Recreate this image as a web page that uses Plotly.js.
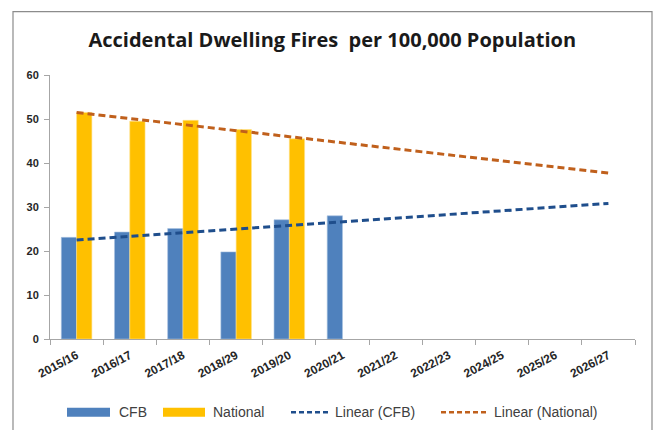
<!DOCTYPE html>
<html>
<head>
<meta charset="utf-8">
<script src="https://cdn.plot.ly/plotly-3.0.1.min.js"></script>
<style>
html,body{margin:0;padding:0;background:#fff;}
#chart{width:658px;height:430px;}
</style>
</head>
<body>
<div id="chart"></div>
<script>
const categories = ["2015/16","2016/17","2017/18","2018/29","2019/20","2020/21","2021/22","2022/23","2024/25","2025/26","2026/27"];
const cfbValues = [23.1, 24.3, 25.1, 19.8, 27.1, 28.0];
const nationalValues = [51.5, 49.5, 49.7, 47.6, 45.5];
// Trendline endpoints (first and last category)
const trendCategories = ["2015/16", "2026/27"];
const cfbTrend = [22.5, 30.8];
const nationalTrend = [51.5, 37.7];
const yTicks = [0, 10, 20, 30, 40, 50, 60];
const seriesNames = ["CFB", "National", "Linear (CFB)", "Linear (National)"];
const seriesColors = ["#4F81BD", "#FFC000", "#1F4E8C", "#C0601C"];

const tickFont = {family: "Liberation Sans, Arial, sans-serif", size: 12, color: "#262626", weight: "bold"};
const yTickFont = {family: "Liberation Sans, Arial, sans-serif", size: 11, color: "#262626", weight: "bold"};

const traces = [
  {type: "bar", name: seriesNames[0], x: categories.slice(0, cfbValues.length), y: cfbValues,
   marker: {color: seriesColors[0], line: {color: "#A9C2E0", width: 0.6}}},
  {type: "bar", name: seriesNames[1], x: categories.slice(0, nationalValues.length), y: nationalValues,
   marker: {color: seriesColors[1], line: {color: "#FFE08A", width: 0.6}}},
  {type: "scatter", mode: "lines", name: seriesNames[2], x: trendCategories, y: cfbTrend,
   line: {color: seriesColors[2], width: 3, dash: "7px,4px"}},
  {type: "scatter", mode: "lines", name: seriesNames[3], x: trendCategories, y: nationalTrend,
   line: {color: seriesColors[3], width: 3, dash: "7px,4px"}}
];

// plot area: x 50..635 px, y 75.3..339.3 px  -> helper to convert pixel to paper coords
const PX = px => (px - 50) / 585;
const PY = py => (339.3 - py) / 264;

const legendY = 412.5;
const legendItems = [
  {kind: "rect", x0: 67, x1: 110, tx: 117},
  {kind: "rect", x0: 163, x1: 205, tx: 211},
  {kind: "dash", x0: 291, x1: 329, tx: 333},
  {kind: "dash", x0: 441, x1: 488, tx: 492}
];

const shapes = [
  {type: "rect", xref: "paper", yref: "paper", x0: PX(13), x1: PX(652), y0: PY(445), y1: PY(12),
   line: {color: "#8C8C8C", width: 1.2}, fillcolor: "rgba(0,0,0,0)", layer: "below"}
];
const annotations = [];
legendItems.forEach((it, i) => {
  if (it.kind === "rect") {
    shapes.push({type: "rect", xref: "paper", yref: "paper", x0: PX(it.x0), x1: PX(it.x1),
      y0: PY(legendY + 4.5), y1: PY(legendY - 4.5), line: {width: 0}, fillcolor: seriesColors[i]});
  } else {
    shapes.push({type: "line", xref: "paper", yref: "paper", x0: PX(it.x0), x1: PX(it.x1),
      y0: PY(legendY), y1: PY(legendY), line: {color: seriesColors[i], width: 2.5, dash: "5px,3px"}});
  }
  annotations.push({xref: "paper", yref: "paper", x: PX(it.tx), y: PY(legendY), xanchor: "left", yanchor: "middle",
    text: seriesNames[i], showarrow: false,
    font: {family: "Liberation Sans, Arial, sans-serif", size: 14, color: "#404040"}});
});

const layout = {
  width: 658, height: 430,
  paper_bgcolor: "#ffffff", plot_bgcolor: "#ffffff",
  margin: {l: 50, r: 23, t: 75, b: 91},
  barmode: "group", bargap: 0.425, bargroupgap: 0,
  title: {text: "Accidental Dwelling Fires  per 100,000 Population",
          font: {family: "Open Sans, sans-serif", size: 20, color: "#1a1a1a", weight: "bold"},
          x: 0.505, xanchor: "center", y: 0.907, yanchor: "middle"},
  xaxis: {type: "category", categoryorder: "array", categoryarray: categories,
          range: [-0.5, categories.length - 0.5],
          tickangle: -28, tickfont: tickFont, ticklabelstandoff: 4,
          showgrid: false, zeroline: false,
          showline: true, linecolor: "#A6A6A6", linewidth: 1,
          ticks: "outside", ticklen: 5, tickcolor: "#A6A6A6", tickson: "boundaries"},
  yaxis: {range: [0, 60], tickvals: yTicks, ticktext: yTicks.map(String),
          tickfont: yTickFont, ticklabelstandoff: 3, showgrid: false, zeroline: false,
          showline: true, linecolor: "#A6A6A6", linewidth: 1,
          ticks: "outside", ticklen: 5, tickcolor: "#A6A6A6"},
  showlegend: false,
  shapes: shapes,
  annotations: annotations
};

Plotly.newPlot("chart", traces, layout, {displayModeBar: false, staticPlot: true});
</script>
</body>
</html>
